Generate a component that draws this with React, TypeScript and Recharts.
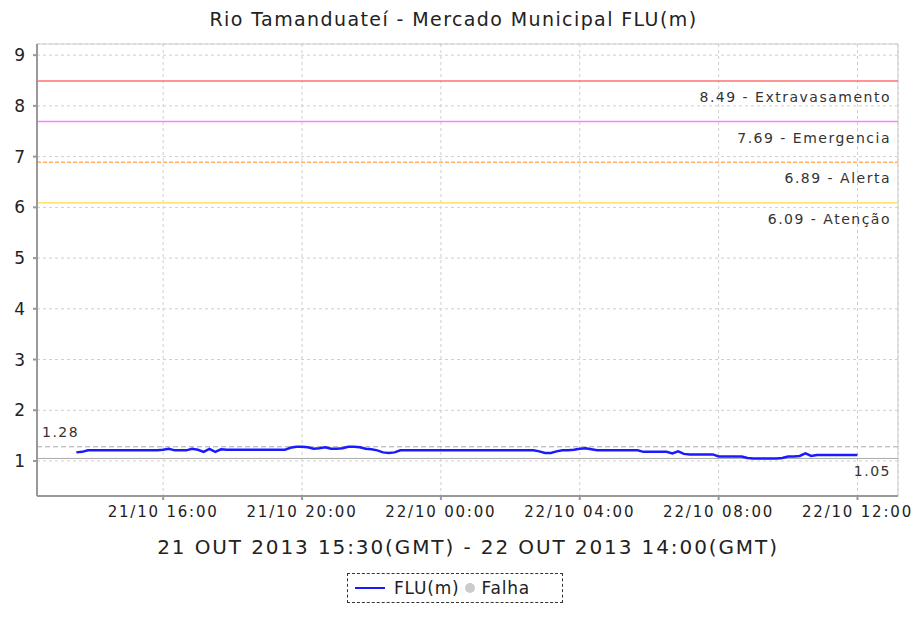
import React from 'react';
import { LineChart, Line, XAxis, YAxis, CartesianGrid, ReferenceLine } from 'recharts';

// Time axis: minutes since 21/10 00:00 (local), readings every 10 minutes from 13:30 to 12:00 next day
const START_MIN = 810;
const STEP_MIN = 10;

const fluValues = [
  1.17, 1.18,
  1.21, 1.21, 1.21, 1.21, 1.21, 1.21, 1.21, 1.21, 1.21, 1.21, 1.21, 1.21, 1.21,
  1.22, 1.24, 1.21, 1.21, 1.21, 1.24, 1.22, 1.18, 1.24, 1.18, 1.23,
  1.22, 1.22, 1.22, 1.22, 1.22, 1.22, 1.22, 1.22, 1.22, 1.22, 1.22,
  1.26, 1.28, 1.28, 1.27, 1.24, 1.25, 1.27, 1.24, 1.24, 1.25, 1.28, 1.28, 1.27, 1.24, 1.23, 1.21, 1.17, 1.16, 1.17,
  1.21, 1.21, 1.21, 1.21, 1.21, 1.21, 1.21, 1.21, 1.21, 1.21, 1.21, 1.21,
  1.21, 1.21, 1.21, 1.21, 1.21, 1.21, 1.21, 1.21, 1.21, 1.21, 1.21, 1.21,
  1.19, 1.16, 1.16, 1.19, 1.21, 1.21, 1.22, 1.24, 1.25, 1.23,
  1.21, 1.21, 1.21, 1.21, 1.21, 1.21, 1.21, 1.21,
  1.18, 1.18, 1.18, 1.18, 1.18,
  1.15, 1.19, 1.14,
  1.13, 1.13, 1.13, 1.13, 1.13,
  1.09, 1.09, 1.09, 1.09, 1.09,
  1.06,
  1.05, 1.05, 1.05, 1.05, 1.05,
  1.06, 1.09, 1.09, 1.10, 1.15, 1.10, 1.12,
  1.12, 1.12, 1.12, 1.12, 1.12, 1.12, 1.12,
];

const xTicks = [960, 1200, 1440, 1680, 1920, 2160];
const xTickLabels = ['21/10 16:00', '21/10 20:00', '22/10 00:00', '22/10 04:00', '22/10 08:00', '22/10 12:00'];
const yTicks = [1, 2, 3, 4, 5, 6, 7, 8, 9];

const thresholdValues = [8.49, 7.69, 6.89, 6.09];
const thresholdNames = ['Extravasamento', 'Emergencia', 'Alerta', 'Atenção'];
const thresholdColors = ['#ff7070', '#ff80ff', '#ffb060', '#ffe070'];
const thresholdDashes = [undefined, undefined, '4 2', undefined];

const maxValue = 1.28;
const minValue = 1.05;

const title = 'Rio Tamanduateí - Mercado Municipal FLU(m)';
const subtitle = '21 OUT 2013 15:30(GMT) - 22 OUT 2013 14:00(GMT)';

const data = fluValues.map((v, i) => ({ t: START_MIN + i * STEP_MIN, v }));

const FONT = '"DejaVu Sans", sans-serif';

type LabelProps = { viewBox?: { x: number; y: number; width: number; height: number }; text: string; anchor: 'start' | 'end'; dx: number; dy: number; size: number };

function LineLabel({ viewBox, text, anchor, dx, dy, size }: LabelProps) {
  if (!viewBox) return null;
  const x = anchor === 'end' ? viewBox.x + viewBox.width + dx : viewBox.x + dx;
  return (
    <text x={x} y={viewBox.y + dy} textAnchor={anchor} fill="#333" fontSize={size} fontFamily={FONT} letterSpacing={1.5}>
      {text}
    </text>
  );
}

export default function App() {
  return (
    <div style={{ position: 'absolute', left: 0, top: 0, width: 917, height: 618, background: '#fff', fontFamily: FONT }}>
      <div style={{ position: 'absolute', left: 0, width: 907, top: 8, textAlign: 'center', fontSize: 19, letterSpacing: 1.4, color: '#222', lineHeight: '22px' }}>
        {title}
      </div>
      <LineChart
        width={917}
        height={618}
        data={data}
        margin={{ top: 44, right: 19, bottom: 92, left: 0 }}
        style={{ position: 'absolute', left: 0, top: 0 }}
      >
        <CartesianGrid stroke="#cfcfcf" strokeDasharray="3 3" />
        <XAxis
          dataKey="t"
          type="number"
          domain={[742, 2230]}
          ticks={xTicks}
          tickFormatter={(v: number) => xTickLabels[xTicks.indexOf(v)] ?? ''}
          height={30}
          stroke="#999"
          strokeWidth={2}
          tickSize={4}
          tickMargin={6}
          tick={{ fill: '#222', fontSize: 15, fontFamily: FONT, letterSpacing: 1.8 }}
          allowDataOverflow
        />
        <YAxis
          type="number"
          domain={[0.31, 9.22]}
          ticks={yTicks}
          width={37}
          stroke="#999"
          strokeWidth={2}
          tickSize={4}
          tickMargin={8}
          tick={{ fill: '#222', fontSize: 17, fontFamily: FONT }}
          allowDataOverflow
        />
        <ReferenceLine y={9.22} stroke="#ccc" />
        <ReferenceLine x={2230} stroke="#ccc" />
        {thresholdValues.map((v, i) => (
          <ReferenceLine
            key={v}
            y={v}
            stroke={thresholdColors[i]}
            strokeWidth={1.5}
            strokeDasharray={thresholdDashes[i]}
            label={<LineLabel text={`${v.toFixed(2)} - ${thresholdNames[i]}`} anchor="end" dx={-7} dy={21} size={14} />}
          />
        ))}
        <ReferenceLine
          y={maxValue}
          stroke="#aaa"
          strokeDasharray="5 3"
          label={<LineLabel text={maxValue.toFixed(2)} anchor="start" dx={5} dy={-10} size={14} />}
        />
        <ReferenceLine
          y={minValue}
          stroke="#aaa"
          label={<LineLabel text={minValue.toFixed(2)} anchor="end" dx={-7} dy={18} size={14} />}
        />
        <Line
          type="linear"
          dataKey="v"
          stroke="#1a1aff"
          strokeWidth={2.5}
          dot={false}
          isAnimationActive={false}
        />
      </LineChart>
      <div style={{ position: 'absolute', left: 0, width: 936, top: 534, textAlign: 'center', fontSize: 20, letterSpacing: 1.9, color: '#222', lineHeight: '26px' }}>
        {subtitle}
      </div>
      <div
        style={{
          position: 'absolute',
          left: 347,
          top: 573,
          width: 216,
          height: 30,
          border: '1px dashed #333',
          display: 'flex',
          alignItems: 'center',
          justifyContent: 'flex-start',
          paddingLeft: 7,
          fontSize: 17,
          letterSpacing: 0.8,
          color: '#222',
          boxSizing: 'border-box',
        }}
      >
        <span style={{ display: 'inline-block', width: 30, height: 2, background: '#1a1aff', marginRight: 9 }} />
        <span>FLU(m)</span>
        <span style={{ display: 'inline-block', width: 10, height: 10, borderRadius: 5, background: '#ccc', margin: '0 6px 0 6px' }} />
        <span>Falha</span>
      </div>
    </div>
  );
}
